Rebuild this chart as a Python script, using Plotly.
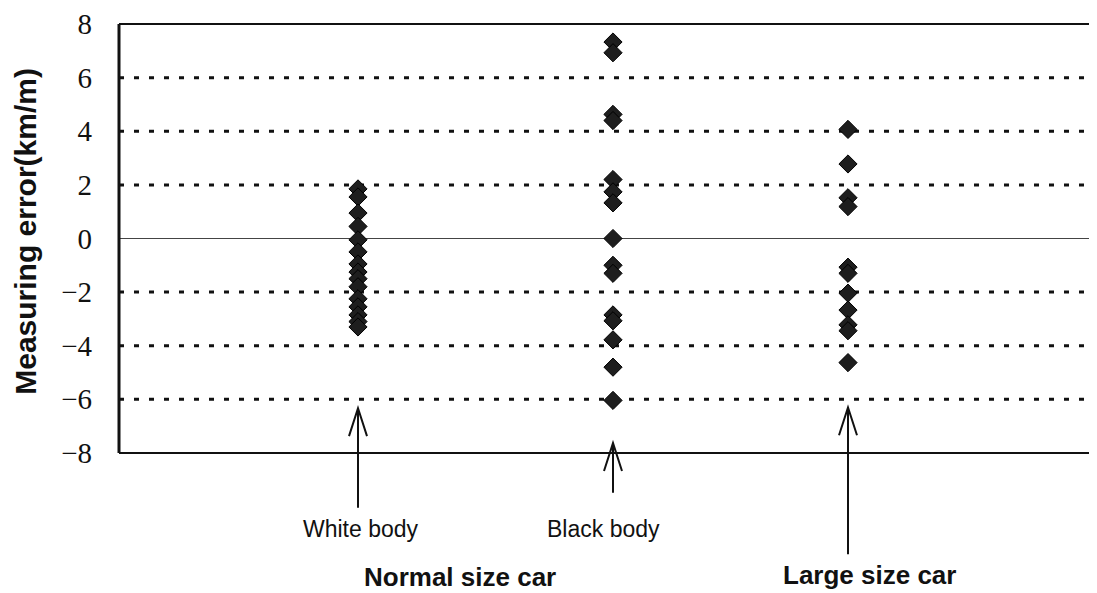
import plotly.graph_objects as go

# Data
white_body = [1.85, 1.55, 0.95, 0.45, -0.05, -0.5, -0.95, -1.25, -1.5, -1.8, -2.25, -2.55, -2.85, -3.1, -3.3]
black_body = [7.33, 6.93, 4.63, 4.4, 2.2, 1.74, 1.33, 0.0, -1.0, -1.3, -2.85, -3.07, -3.78, -4.8, -6.04]
large_car = [4.07, 2.78, 1.52, 1.19, -1.07, -1.3, -2.04, -2.67, -3.22, -3.44, -4.63]
group_x = [2.39, 4.94, 7.29]
arrow_tail = [-10.04, -9.48, -11.78]
arrow_head = [-6.33, -7.63, -6.30]
sub_labels = ["White body", "Black body"]
sub_label_x = [2.42, 4.84]
main_labels = ["Normal size car", "Large size car"]
main_label_x = [3.41, 7.50]
main_label_y = [-12.62, -12.55]
y_ticks = [8, 6, 4, 2, 0, -2, -4, -6, -8]
y_ticktext = ["8", "6", "4", "2", "0", "\u22122", "\u22124", "\u22126", "\u22128"]
grid_levels = [6, 4, 2, -2, -4, -6]

X_MAX = 9.78
Y_MIN, Y_MAX = -8, 8
PAD = 0.002


def xp(x):
    return x / X_MAX


def yp(v):
    return (v - Y_MIN) / (Y_MAX - Y_MIN)


fig = go.Figure()
for xv, ys in zip(group_x, [white_body, black_body, large_car]):
    fig.add_trace(go.Scatter(
        x=[xv] * len(ys), y=ys, mode="markers",
        marker=dict(symbol="diamond", size=14, color="#1e1e1e",
                    line=dict(color="#000000", width=1)),
        showlegend=False, cliponaxis=False))

# dashed grid lines
for g in grid_levels:
    fig.add_shape(type="line", xref="paper", yref="y", x0=0, x1=1, y0=g, y1=g,
                  line=dict(color="#111111", width=3, dash="5px,10px"), layer="below")
# zero line
fig.add_shape(type="line", xref="paper", yref="y", x0=0, x1=1, y0=0, y1=0,
              line=dict(color="#444444", width=1.2), layer="below")
# frame: top, bottom, left
for yv in [Y_MAX, Y_MIN]:
    fig.add_shape(type="line", xref="paper", yref="paper", x0=0, x1=1, y0=yp(yv), y1=yp(yv),
                  line=dict(color="#111111", width=2.2))
fig.add_shape(type="line", xref="paper", yref="paper", x0=0, x1=0, y0=0, y1=1,
              line=dict(color="#111111", width=3))

# arrows (drawn in paper space so they are not clipped)
hw = 0.09   # half width of arrow head in x units
hl = 1.04   # length of arrow head in y units
for xv, t, h in zip(group_x, arrow_tail, arrow_head):
    fig.add_shape(type="line", xref="paper", yref="paper",
                  x0=xp(xv), x1=xp(xv), y0=yp(t), y1=yp(h),
                  line=dict(color="#111111", width=2))
    path = "M {} {} L {} {} L {} {}".format(xp(xv - hw), yp(h - hl), xp(xv), yp(h), xp(xv + hw), yp(h - hl))
    fig.add_shape(type="path", xref="paper", yref="paper", path=path,
                  line=dict(color="#111111", width=2))

for xv, lab in zip(sub_label_x, sub_labels):
    fig.add_annotation(xref="paper", yref="paper", x=xp(xv), y=yp(-10.85), text=lab,
                       showarrow=False, xanchor="center", yanchor="middle",
                       font=dict(family="Liberation Sans, Arial", size=23, color="#111111"))

for xv, yv, lab in zip(main_label_x, main_label_y, main_labels):
    fig.add_annotation(xref="paper", yref="paper", x=xp(xv), y=yp(yv), text="<b>" + lab + "</b>",
                       showarrow=False, xanchor="center", yanchor="middle",
                       font=dict(family="Liberation Sans, Arial", size=26, color="#111111"))

# y axis title
fig.add_annotation(xref="paper", yref="paper", x=-93 / 978, y=yp(0.25), text="<b>Measuring error(km/m)</b>",
                   textangle=-90, showarrow=False, xanchor="center", yanchor="middle",
                   font=dict(family="Liberation Sans, Arial", size=30, color="#111111"))

fig.update_layout(
    width=1089, height=585,
    margin=dict(l=111, r=0, t=13, b=140),
    plot_bgcolor="white", paper_bgcolor="white",
    xaxis=dict(range=[0, X_MAX], showgrid=False, zeroline=False, showticklabels=False, showline=False),
    yaxis=dict(range=[Y_MIN - PAD, Y_MAX + PAD], tickvals=y_ticks, ticktext=y_ticktext, showgrid=False,
               zeroline=False, showline=False, ticks="", ticklabelstandoff=26, ticklabeloverflow="allow",
               tickfont=dict(family="Liberation Serif, serif", size=29, color="#111111")),
)
fig.write_html("out.html")
